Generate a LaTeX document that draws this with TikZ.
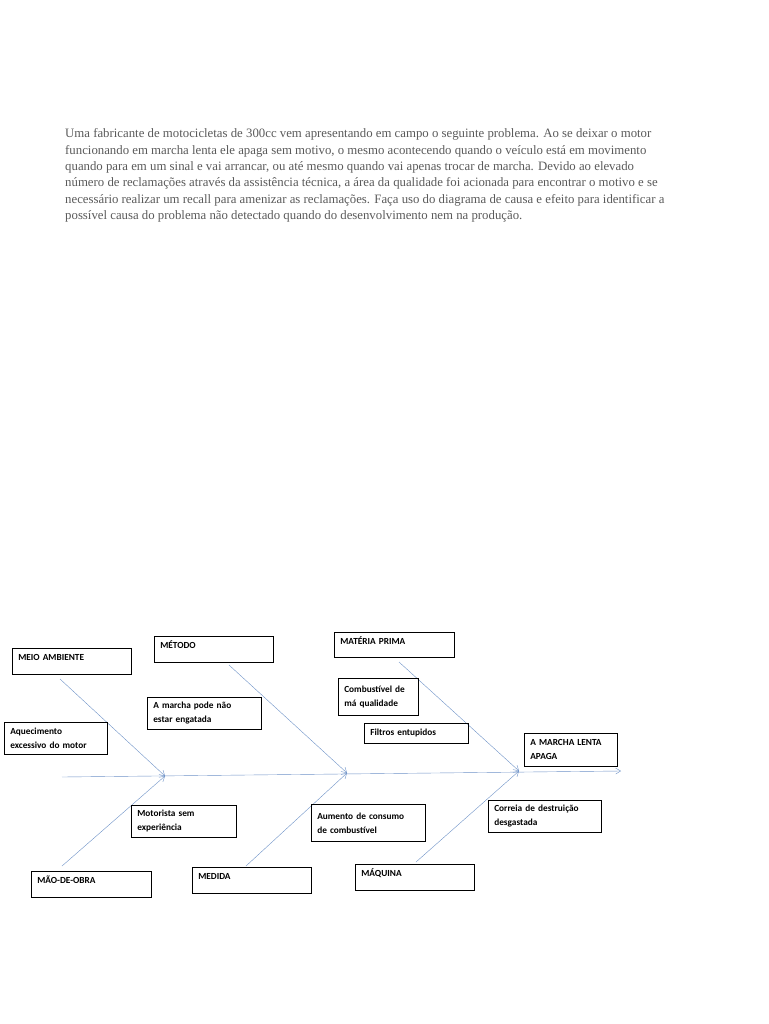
\documentclass[tikz,border=0pt]{standalone}
\usepackage{fontspec}
\setmainfont{Liberation Serif}
\newfontfamily\boxfont{Carlito}
\definecolor{bonecol}{HTML}{6F93C8}
\definecolor{textgray}{HTML}{5A5A5A}
\tikzset{
  causebox/.style={draw, semithick, anchor=north west, inner xsep=6pt, inner ysep=3pt,
    align=left, font=\boxfont\bfseries\fontsize{9.3}{14}\selectfont},
  catbox/.style={causebox, inner ysep=1.5pt, text height=11pt, text depth=12pt}
}
\tikzset{bone/.style={draw=bonecol, thin, -{Straight Barb[length=5pt,width=6pt]}}}
\usetikzlibrary{arrows.meta}
\begin{document}
\begin{tikzpicture}[x=1pt, y=-1pt]
  \useasboundingbox[fill=white] (0,0) rectangle (768,1024);
  % Problem statement
  \node[anchor=north west, inner sep=0pt, align=left, text=textgray,
        font=\fontsize{12.8}{16.4}\selectfont] (texto) at (65,128.5)
    {Uma fabricante de motocicletas de 300cc vem apresentando em campo o seguinte problema. Ao se deixar o motor\\
     funcionando em marcha lenta ele apaga sem motivo, o mesmo acontecendo quando o veículo está em movimento\\
     quando para em um sinal e vai arrancar, ou até mesmo quando vai apenas trocar de marcha. Devido ao elevado\\
     número de reclamações através da assistência técnica, a área da qualidade foi acionada para encontrar o motivo e se\\
     necessário realizar um recall para amenizar as reclamações. Faça uso do diagrama de causa e efeito para identificar a\\
     possível causa do problema não detectado quando do desenvolvimento nem na produção.};
  % Spine
  \coordinate (cauda) at (62,777);
  \coordinate (j1) at (165,776);
  \coordinate (j2) at (347,773);
  \coordinate (j3) at (519,771);
  \coordinate (cabeca) at (621,771);
  \draw[bone] (cauda) -- (cabeca);
  % Bones
  \coordinate (b1t) at (60,679);
  \coordinate (b1b) at (62,866);
  \coordinate (b2t) at (229,665);
  \coordinate (b2b) at (246,866);
  \coordinate (b3t) at (399,662);
  \coordinate (b3b) at (416,862);
  \draw[bone] (b1t) -- (j1);
  \draw[bone] (b1b) -- (j1);
  \draw[bone] (b2t) -- (j2);
  \draw[bone] (b2b) -- (j2);
  \draw[bone] (b3t) -- (j3);
  \draw[bone] (b3b) -- (j3);
  % Categories
  \node[catbox, text width=107pt] (meio) at (12,648) {MEIO AMBIENTE};
  \node[catbox, text width=107pt] (metodo) at (154,636) {MÉTODO};
  \node[catbox, text width=108pt, text depth=11pt] (materia) at (334,632) {MATÉRIA PRIMA};
  \node[catbox, text width=108pt] (mao) at (31,871) {MÃO-DE-OBRA};
  \node[catbox, text width=107pt] (medida) at (192,867) {MEDIDA};
  \node[catbox, text width=107pt] (maquina) at (355,864) {MÁQUINA};
  % Causes
  \node[causebox, text width=91pt, minimum height=32pt] (aquec) at (4,722) {Aquecimento\\excessivo do motor};
  \node[causebox, text width=102pt, minimum height=32pt] (engate) at (147,697) {A marcha pode não\\estar engatada};
  \node[causebox, text width=68pt, minimum height=37pt] (combust) at (338,678) {Combustível de\\má qualidade};
  \node[causebox, text width=92pt, minimum height=20pt] (filtros) at (364,723) {Filtros entupidos};
  \node[causebox, text width=93pt, minimum height=32pt] (motorista) at (131,805) {Motorista sem\\experiência};
  \node[causebox, text width=102pt, minimum height=37pt] (consumo) at (311,804) {Aumento de consumo\\de combustível};
  \node[causebox, text width=101pt, minimum height=32pt] (correia) at (488,800) {Correia de destruição\\desgastada};
  % Effect
  \node[causebox, text width=81pt, minimum height=33pt] (efeito) at (524,733) {A MARCHA LENTA\\APAGA};
\end{tikzpicture}
\end{document}
